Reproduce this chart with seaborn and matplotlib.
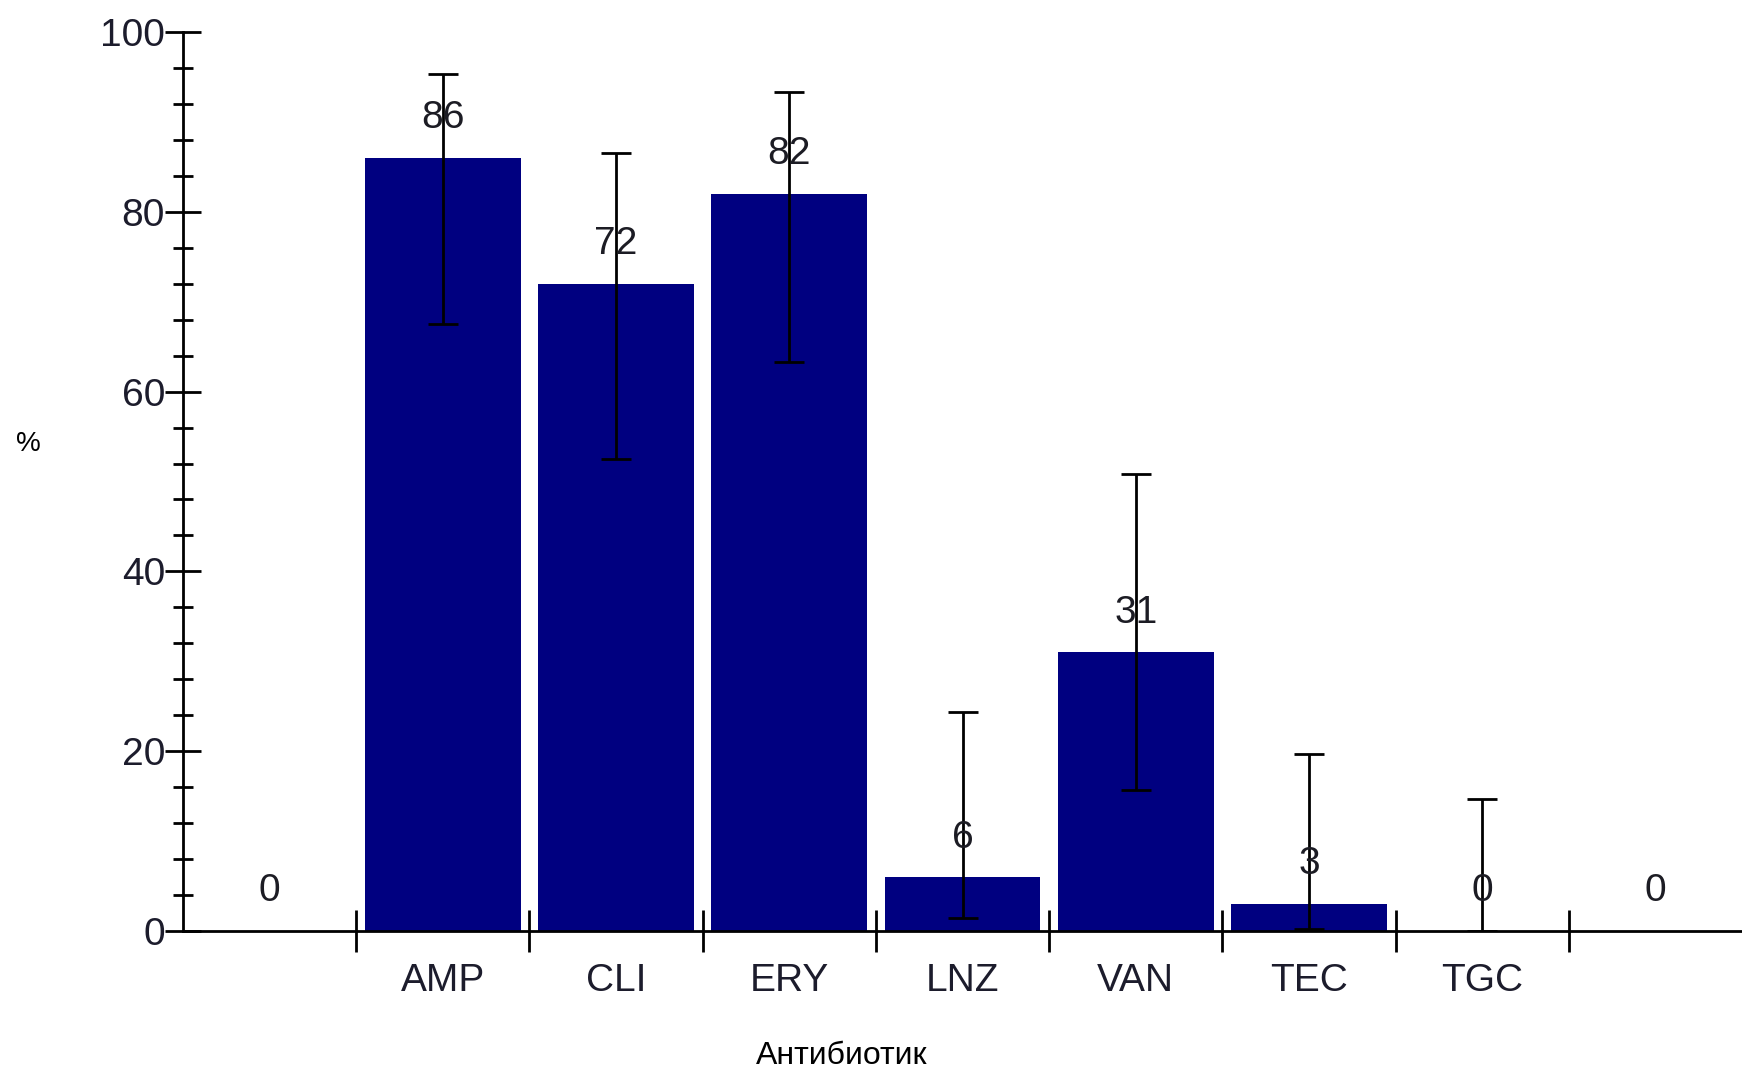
import matplotlib
matplotlib.use("Agg")
import matplotlib.pyplot as plt
from matplotlib.ticker import FixedLocator, MultipleLocator
import numpy as np
import pandas as pd
import seaborn as sns

# Resistance (%) per antibiotic; the outer slots are empty placeholders
slots = ["s0", "AMP", "CLI", "ERY", "LNZ", "VAN", "TEC", "TGC", "s8"]
slot_labels = ["", "AMP", "CLI", "ERY", "LNZ", "VAN", "TEC", "TGC", ""]
percent = [0, 86, 72, 82, 6, 31, 3, 0, 0]

# 95% confidence limits for the antibiotics that were tested
ci_names = ["AMP", "CLI", "ERY", "LNZ", "VAN", "TEC", "TGC"]
ci_low = [67.5, 52.5, 63.3, 1.4, 15.7, 0.2, 0.0]
ci_high = [95.3, 86.5, 93.3, 24.4, 50.8, 19.7, 14.7]

y_label = "%"
x_label = "Антибиотик"

sns.set_theme(style="white")
plt.rcParams["font.family"] = ["Liberation Sans", "DejaVu Sans"]

df = pd.DataFrame({"slot": slots, "percent": percent})

fig = plt.figure(figsize=(17.42, 10.70), dpi=100)
ax = fig.add_axes([183 / 1742, 139 / 1070, 1 - 183 / 1742, (931 - 32) / 1070])

sns.barplot(data=df, x="slot", y="percent", order=slots, color="#000080",
            saturation=1, width=0.9, errorbar=None, ax=ax, linewidth=0)

# Asymmetric confidence intervals drawn over the bars
pos = [slots.index(n) for n in ci_names]
vals = [percent[p] for p in pos]
lower = [v - lo for v, lo in zip(vals, ci_low)]
upper = [hi - v for v, hi in zip(vals, ci_high)]
ax.errorbar(pos, vals, yerr=[lower, upper], fmt="none", ecolor="black",
            elinewidth=2, capsize=11, capthick=2, zorder=5)

# Value labels above each slot
for i, v in enumerate(percent):
    ax.text(i, v + 4.4, f"{v:g}", ha="center", va="center",
            fontsize=28, color="#1c1c24", zorder=6)

ax.set_xlim(-0.5, len(slots) - 0.5)
ax.set_ylim(0, 100)

# Axis frame: only the left and bottom spines
for side in ["top", "right"]:
    ax.spines[side].set_visible(False)
for side in ["left", "bottom"]:
    ax.spines[side].set_color("black")
    ax.spines[side].set_linewidth(2)

# Y ticks: majors every 20, minors every 4
ax.yaxis.set_major_locator(MultipleLocator(20))
ax.yaxis.set_minor_locator(MultipleLocator(4))
ax.tick_params(axis="y", which="major", direction="inout", length=26,
               width=2, color="black", labelsize=28, labelcolor="#1c1c2c",
               pad=0, left=True)
ax.tick_params(axis="y", which="minor", direction="inout", length=15,
               width=2, color="black", left=True)

# X ticks: marks at slot boundaries, labels at slot centres
ax.xaxis.set_major_locator(FixedLocator(np.arange(0.5, len(slots) - 1, 1.0)))
ax.xaxis.set_minor_locator(FixedLocator(np.arange(len(slots))))
ax.set_xticklabels([], minor=False)
ax.set_xticklabels(slot_labels, minor=True)
ax.tick_params(axis="x", which="major", direction="inout", length=30,
               width=2, color="black", bottom=True)
ax.tick_params(axis="x", which="minor", length=0, labelsize=28,
               labelcolor="#1c1c2c", pad=23, bottom=True)

ax.set_xlabel("")
ax.set_ylabel("")
fig.text(28 / 1742, 1 - 444 / 1070, y_label, fontsize=20, color="black",
         ha="center", va="center")
fig.text(842 / 1742, 1 - 1056 / 1070, x_label, fontsize=23, color="black",
         ha="center", va="center")

fig.savefig("out.png", dpi=100, facecolor="white")
